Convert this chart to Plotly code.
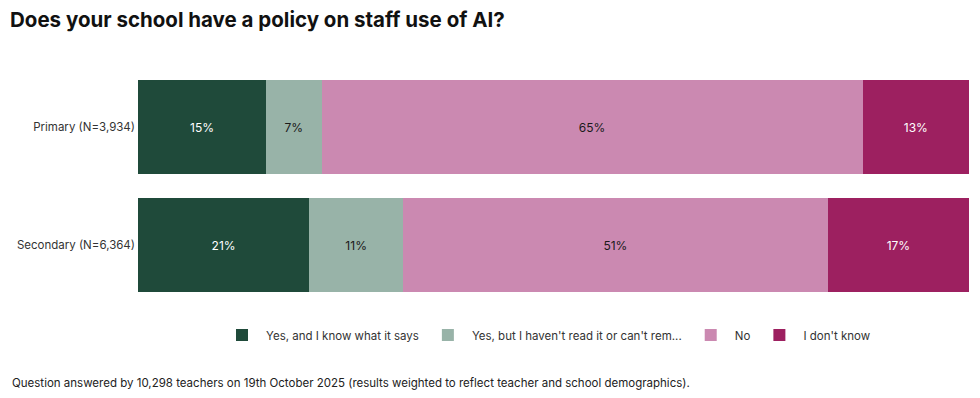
import plotly.graph_objects as go

categories = ["Primary (N=3,934)", "Secondary (N=6,364)"]
series_names = ["Yes, and I know what it says",
                "Yes, but I haven't read it or can't rem...",
                "No",
                "I don't know"]
yes_know = [15.4, 20.6]
yes_not_read = [6.7, 11.3]
no = [65.1, 51.1]
dont_know = [12.8, 17.0]
labels = [["15%", "21%"], ["7%", "11%"], ["65%", "51%"], ["13%", "17%"]]

colors = ["#1f4a3a", "#98b3a8", "#cb89b1", "#9d2060"]
text_colors = ["#ffffff", "#1a1a1a", "#1a1a1a", "#ffffff"]

FONT = "Inter, 'Noto Sans', sans-serif"

# page has an 8px body margin, so the figure is 972x390 drawn from (8, 8)
W, H = 972, 390

fig = go.Figure()
for name, vals, lab, c, tc in zip(series_names,
                                   [yes_know, yes_not_read, no, dont_know],
                                   labels, colors, text_colors):
    fig.add_trace(go.Bar(
        y=categories, x=vals, name=name, orientation="h",
        marker=dict(color=c, line=dict(width=0)),
        text=lab, textposition="inside", insidetextanchor="middle",
        textfont=dict(color=tc, size=12, family=FONT),
        hoverinfo="skip",
    ))

fig.update_layout(
    barmode="stack",
    bargap=0.2,
    width=W, height=H,
    margin=dict(l=130, r=11, t=60, b=94, autoexpand=False),
    paper_bgcolor="white", plot_bgcolor="white",
    font=dict(family=FONT, size=12, color="#333333"),
    title=dict(text="<b>Does your school have a policy on staff use of AI?</b>",
               x=2 / W, xanchor="left", xref="container",
               y=1 - 12 / H, yanchor="middle", yref="container",
               font=dict(size=20.5, color="#111111", family=FONT)),
    xaxis=dict(visible=False, range=[0, 100], fixedrange=True, automargin=False),
    yaxis=dict(autorange="reversed", showgrid=False, showline=False, automargin=False,
               ticks="", ticklabelstandoff=2,
               tickfont=dict(size=11.5, color="#333333")),
    legend=dict(orientation="h", xref="container", yref="container",
                x=539 / W, xanchor="center", y=1 - 327 / H, yanchor="middle",
                font=dict(size=11.5, color="#333333"), traceorder="normal",
                itemwidth=38),
    showlegend=True,
)

fig.add_annotation(
    text="Question answered by 10,298 teachers on 19th October 2025 (results weighted to reflect teacher and school demographics).",
    xref="paper", yref="paper", x=-128 / 831, y=-79 / 236,
    xanchor="left", yanchor="middle", showarrow=False,
    font=dict(size=11.5, color="#222222", family=FONT),
)

fig.write_html("out.html")
